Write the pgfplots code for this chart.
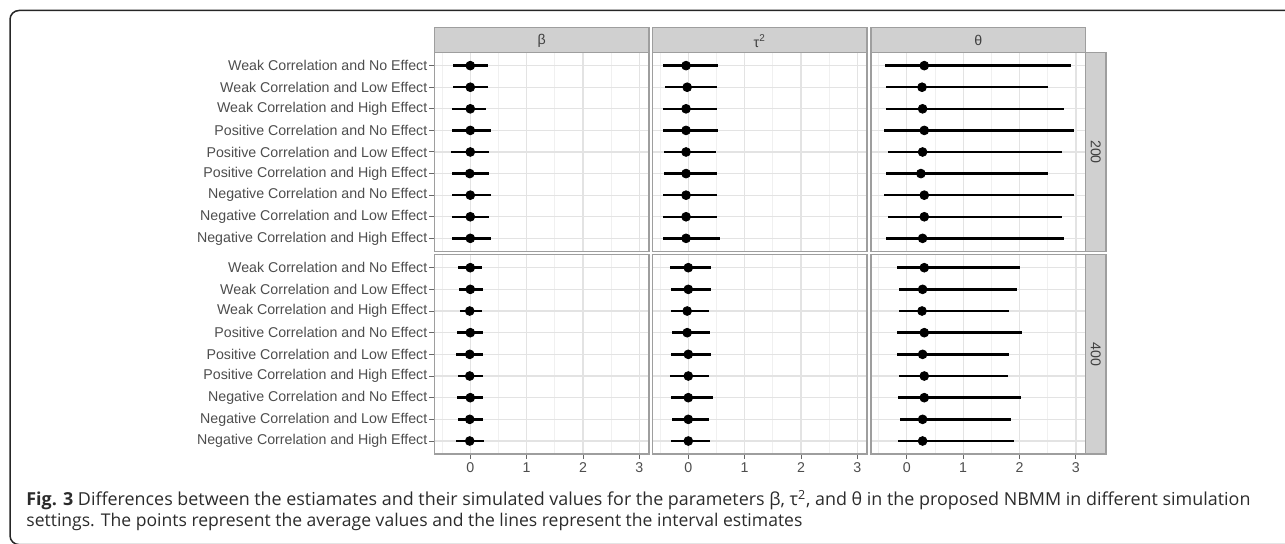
\documentclass[border=0pt]{standalone}
\usepackage{fontspec}
\setmainfont{Liberation Sans}
\newfontfamily\capfont{Open Sans}
\usepackage{graphicx}
\usepackage{pgfplots}
\usepackage{pgfplotstable}
\pgfplotsset{compat=1.18}
\definecolor{gridmaj}{HTML}{E3E3E3}
\definecolor{gridmin}{HTML}{F0F0F0}
\definecolor{bordercol}{HTML}{9E9E9E}
\definecolor{stripfill}{HTML}{D0D0D0}
\definecolor{tickcol}{HTML}{4D4D4D}
\definecolor{capcol}{HTML}{2B2B2B}

\pgfplotstableread{
y lo m hi
9 -0.30 0.00 0.31
8 -0.30 0.00 0.31
7 -0.32 0.00 0.28
6 -0.33 0.00 0.36
5 -0.35 0.00 0.34
4 -0.32 -0.01 0.34
3 -0.33 0.00 0.36
2 -0.33 0.00 0.34
1 -0.32 0.00 0.36
}\tabTB
\pgfplotstableread{
y lo m hi
9 -0.45 -0.04 0.53
8 -0.41 -0.02 0.51
7 -0.45 -0.04 0.51
6 -0.45 -0.04 0.53
5 -0.43 -0.04 0.50
4 -0.43 -0.04 0.51
3 -0.45 -0.04 0.51
2 -0.45 -0.04 0.51
1 -0.45 -0.04 0.56
}\tabTT
\pgfplotstableread{
y lo m hi
9 -0.39 0.31 2.91
8 -0.37 0.27 2.51
7 -0.37 0.28 2.78
6 -0.41 0.31 2.97
5 -0.34 0.28 2.76
4 -0.37 0.25 2.51
3 -0.41 0.31 2.96
2 -0.34 0.31 2.76
1 -0.37 0.28 2.78
}\tabTH
\pgfplotstableread{
y lo m hi
9 -0.22 0.00 0.21
8 -0.20 0.00 0.23
7 -0.18 -0.01 0.21
6 -0.24 0.00 0.23
5 -0.25 -0.01 0.23
4 -0.22 -0.01 0.23
3 -0.24 0.00 0.23
2 -0.22 -0.01 0.23
1 -0.25 -0.01 0.24
}\tabBB
\pgfplotstableread{
y lo m hi
9 -0.33 0.00 0.41
8 -0.31 0.00 0.41
7 -0.31 -0.02 0.37
6 -0.29 -0.02 0.38
5 -0.31 0.00 0.41
4 -0.33 0.00 0.37
3 -0.31 0.00 0.43
2 -0.29 0.00 0.37
1 -0.31 0.00 0.38
}\tabBT
\pgfplotstableread{
y lo m hi
9 -0.17 0.31 2.00
8 -0.14 0.28 1.95
7 -0.14 0.27 1.82
6 -0.17 0.31 2.05
5 -0.17 0.28 1.82
4 -0.14 0.31 1.79
3 -0.15 0.31 2.02
2 -0.12 0.28 1.84
1 -0.15 0.28 1.90
}\tabBH

\pgfplotsset{
  panel/.style={
    scale only axis, width=107.25pt,
    anchor=north west,
    xmin=-0.635, xmax=3.17, ymin=0.4, ymax=9.6,
    xtick={0,1,2,3}, minor xtick={-0.5,0.5,1.5,2.5},
    ytick={1,2,3,4,5,6,7,8,9},
    xmajorgrids, xminorgrids, ymajorgrids,
    major grid style={draw=gridmaj, line width=0.65pt},
    minor grid style={draw=gridmin, line width=0.4pt},
    axis line style={draw=bordercol, line width=0.6pt},
    tick align=outside, tick pos=left,
    major tick length=2.6pt, minor tick length=0pt,
    tick style={draw=black!60, line width=0.5pt},
    ticklabel style={font=\fontsize{7.1}{8}\selectfont, text=tickcol},
    xticklabel style={inner sep=1.6pt},
    yticklabel style={inner sep=0.8pt},
    /pgf/number format/assume math mode=true,
  },
  toprow/.style={height=99.3pt, xticklabels={}, xtick style={draw=none}},
  botrow/.style={height=99.65pt},
  leftcol/.style={yticklabels={Negative Correlation and High Effect,Negative Correlation and Low Effect,Negative Correlation and No Effect,Positive Correlation and High Effect,Positive Correlation and Low Effect,Positive Correlation and No Effect,Weak Correlation and High Effect,Weak Correlation and Low Effect,Weak Correlation and No Effect}},
  othercol/.style={yticklabels={}, ytick style={draw=none}},
}

\begin{document}
\begin{tikzpicture}
\path[use as bounding box] (0pt,0pt) rectangle (642.5pt,272pt);
% frame
\draw[line width=0.75pt, black!85, rounded corners=4.5pt] (700pt,266.75pt) -- (5pt,266.75pt) -- (5pt,-0.3pt) -- (700pt,-0.3pt);

% top row
\begin{axis}[panel, toprow, leftcol, at={(217.25pt,245.65pt)}]
\addplot[only marks, mark=*, mark size=2.2pt, black,
  error bars/x dir=both, error bars/x explicit, error bars/error mark=none,
  error bars/error bar style={line width=1.2pt, black}]
  table[x=m, y=y, x error plus expr=\thisrow{hi}-\thisrow{m}, x error minus expr=\thisrow{m}-\thisrow{lo}] {\tabTB};
\end{axis}
\begin{axis}[panel, toprow, othercol, at={(326.25pt,245.65pt)}]
\addplot[only marks, mark=*, mark size=2.2pt, black,
  error bars/x dir=both, error bars/x explicit, error bars/error mark=none,
  error bars/error bar style={line width=1.2pt, black}]
  table[x=m, y=y, x error plus expr=\thisrow{hi}-\thisrow{m}, x error minus expr=\thisrow{m}-\thisrow{lo}] {\tabTT};
\end{axis}
\begin{axis}[panel, toprow, othercol, at={(435.5pt,245.65pt)}]
\addplot[only marks, mark=*, mark size=2.2pt, black,
  error bars/x dir=both, error bars/x explicit, error bars/error mark=none,
  error bars/error bar style={line width=1.2pt, black}]
  table[x=m, y=y, x error plus expr=\thisrow{hi}-\thisrow{m}, x error minus expr=\thisrow{m}-\thisrow{lo}] {\tabTH};
\end{axis}
% bottom row
\begin{axis}[panel, botrow, leftcol, at={(217.25pt,144.65pt)}]
\addplot[only marks, mark=*, mark size=2.2pt, black,
  error bars/x dir=both, error bars/x explicit, error bars/error mark=none,
  error bars/error bar style={line width=1.2pt, black}]
  table[x=m, y=y, x error plus expr=\thisrow{hi}-\thisrow{m}, x error minus expr=\thisrow{m}-\thisrow{lo}] {\tabBB};
\end{axis}
\begin{axis}[panel, botrow, othercol, at={(326.25pt,144.65pt)}]
\addplot[only marks, mark=*, mark size=2.2pt, black,
  error bars/x dir=both, error bars/x explicit, error bars/error mark=none,
  error bars/error bar style={line width=1.2pt, black}]
  table[x=m, y=y, x error plus expr=\thisrow{hi}-\thisrow{m}, x error minus expr=\thisrow{m}-\thisrow{lo}] {\tabBT};
\end{axis}
\begin{axis}[panel, botrow, othercol, at={(435.5pt,144.65pt)}]
\addplot[only marks, mark=*, mark size=2.2pt, black,
  error bars/x dir=both, error bars/x explicit, error bars/error mark=none,
  error bars/error bar style={line width=1.2pt, black}]
  table[x=m, y=y, x error plus expr=\thisrow{hi}-\thisrow{m}, x error minus expr=\thisrow{m}-\thisrow{lo}] {\tabBH};
\end{axis}

% strips
\filldraw[line width=0.6pt, fill=stripfill, draw=bordercol] (217.25pt,245.65pt) rectangle (324.5pt,258.35pt);
\filldraw[line width=0.6pt, fill=stripfill, draw=bordercol] (326.25pt,245.65pt) rectangle (433.5pt,258.35pt);
\filldraw[line width=0.6pt, fill=stripfill, draw=bordercol] (435.5pt,245.65pt) rectangle (542.75pt,258.35pt);
\filldraw[line width=0.6pt, fill=stripfill, draw=bordercol] (542.75pt,245.65pt) rectangle (553pt,146.35pt);
\filldraw[line width=0.6pt, fill=stripfill, draw=bordercol] (542.75pt,144.65pt) rectangle (553pt,45pt);

\node[font=\fontsize{7.1}{8}\selectfont, text=black!75, inner sep=0] at (270.875pt,251.8pt) {β};
\node[font=\fontsize{7.1}{8}\selectfont, text=black!75, inner sep=0] at (379.875pt,251.4pt) {τ\textsuperscript{2}};
\node[font=\fontsize{7.1}{8}\selectfont, text=black!75, inner sep=0] at (489.125pt,251.8pt) {θ};
\node[font=\fontsize{7.1}{8}\selectfont, text=black!75, inner sep=0, rotate=-90] at (547.875pt,196pt) {200};
\node[font=\fontsize{7.1}{8}\selectfont, text=black!75, inner sep=0, rotate=-90] at (547.875pt,94.85pt) {400};

% caption
\node[anchor=base west, inner sep=0, text=capcol] at (13pt,19pt)
  {\resizebox{612pt}{!}{\capfont\textbf{Fig. 3} Differences between the estiamates and their simulated values for the parameters β, τ\textsuperscript{2}, and θ in the proposed NBMM in different simulation}};
\node[anchor=base west, inner sep=0, text=capcol] at (13pt,8.8pt)
  {\resizebox{388pt}{!}{\capfont settings. The points represent the average values and the lines represent the interval estimates}};
\end{tikzpicture}
\end{document}
